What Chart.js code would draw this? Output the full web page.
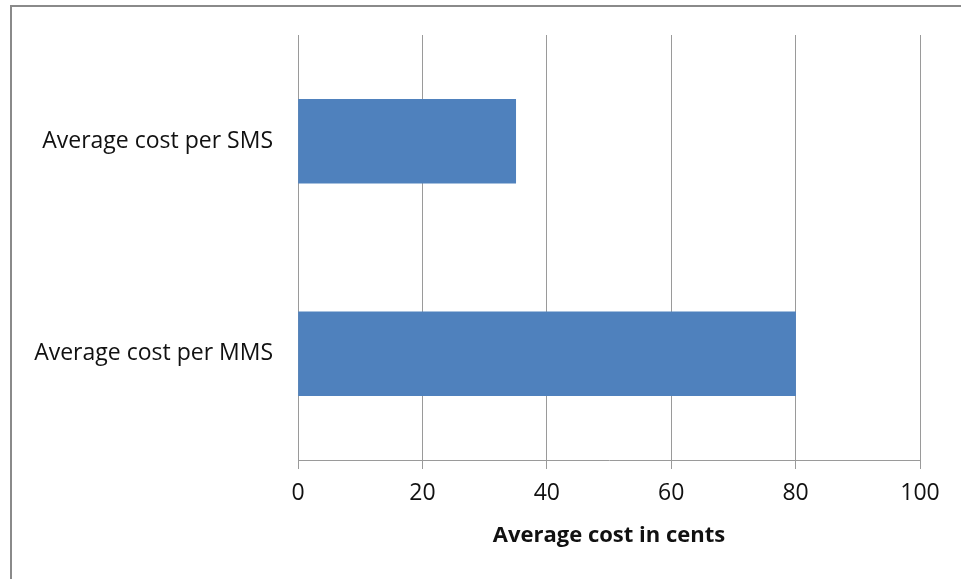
<!DOCTYPE html>
<html>
<head>
<meta charset="utf-8">
<script src="https://cdn.jsdelivr.net/npm/chart.js@4"></script>
<style>
  html, body { margin: 0; padding: 0; background: #fff; overflow: hidden; }
  #frame {
    position: absolute; left: 10px; top: 5px; width: 980px; height: 600px;
    border-left: 2px solid #8a8a8a; border-top: 2px solid #8a8a8a;
  }
  #wrap { position: absolute; left: 0; top: 0; width: 961px; height: 579px; }
</style>
</head>
<body>
<div id="frame"></div>
<div id="wrap"><canvas id="cost-chart"></canvas></div>
<script>
const categories = ['Average cost per SMS', 'Average cost per MMS'];
const costCents = [35, 80];
const axisTitle = 'Average cost in cents';

const fontFamily = '"Open Sans", Lato, sans-serif';
const gridColor = '#9a9a9a';

const data = {
  labels: categories,
  datasets: [{
    label: axisTitle,
    data: costCents,
    backgroundColor: '#4f81bd',
    borderWidth: 0,
    barThickness: 84,
  }]
};

const config = {
  type: 'bar',
  data: data,
  options: {
    indexAxis: 'y',
    responsive: true,
    maintainAspectRatio: false,
    animation: false,
    layout: { padding: { top: 35, right: 41, left: 0, bottom: 0 } },
    plugins: {
      legend: { display: false },
      tooltip: { enabled: false },
    },
    scales: {
      x: {
        min: 0,
        max: 100,
        ticks: {
          stepSize: 20,
          color: '#111',
          padding: 11,
          font: { family: fontFamily, size: 23 },
        },
        grid: { color: gridColor, lineWidth: 1, tickLength: 9 },
        border: { display: true, color: gridColor, width: 1 },
        title: {
          display: true,
          text: axisTitle,
          color: '#111',
          font: { family: fontFamily, size: 22, weight: 'bold' },
          padding: { top: 0, bottom: 30 },
        },
        afterFit: function(scale) { scale.height = 119; },
      },
      y: {
        ticks: {
          color: '#111',
          padding: 0,
          font: { family: fontFamily, size: 23 },
        },
        // hidden tick marks only push the labels away from the axis
        grid: { display: false, drawTicks: true, tickLength: 25 },
        border: { display: false },
        afterFit: function(scale) { scale.width = 298; },
      },
    },
  },
};

const ctx = document.getElementById('cost-chart').getContext('2d');
const chart = new Chart(ctx, config);
</script>
</body>
</html>
